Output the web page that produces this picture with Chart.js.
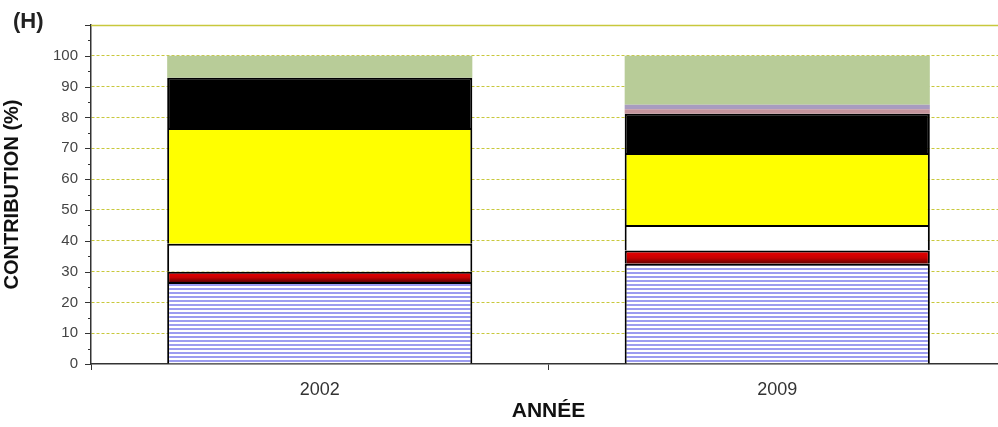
<!DOCTYPE html>
<html>
<head>
<meta charset="utf-8">
<script src="https://cdn.jsdelivr.net/npm/chart.js@4/dist/chart.umd.min.js"></script>
<style>
  html, body { margin: 0; padding: 0; background: #fff; overflow: hidden; }
  #wrap { position: relative; width: 998px; height: 427px; overflow: hidden; }
  #c { display: block; }
  #tag { position: absolute; left: 13px; top: 8px; font: bold 22px "Liberation Sans", Arial, sans-serif; color: #222; }
</style>
</head>
<body>
<div id="wrap">
  <canvas id="c" width="1006" height="427"></canvas>
  <div id="tag">(H)</div>
</div>
<script>
/* contribution (%) by year, stacked bottom -> top */
const years = ['2002', '2009'];
const striped = [26.6, 32.5];
const red = [3.3, 4.3];
const white = [9.1, 8.3];
const yellow = [37.6, 23.4];
const black = [16.3, 12.7];
const rose = [0, 1.5];
const mauve = [0, 1.4];
const green = [7.1, 15.9];
const yTicks = [0, 10, 20, 30, 40, 50, 60, 70, 80, 90, 100];

const FONT = '"Liberation Sans", Arial, sans-serif';
const NARROW = '"Liberation Sans Narrow", "Liberation Sans", Arial, sans-serif';
const GRID = '#c8c83c';

function stripePattern() {
  const p = document.createElement('canvas');
  p.width = 4; p.height = 4;
  const g = p.getContext('2d');
  g.fillStyle = '#ffffff'; g.fillRect(0, 0, 4, 4);
  g.fillStyle = '#9c9cf0'; g.fillRect(0, 0, 4, 2);
  return g.createPattern(p, 'repeat');
}

// vertical red gradient per bar, bright on top, dark at the base
function redFill(ctx) {
  const chart = ctx.chart;
  const y = chart.scales && chart.scales.y;
  if (!y || ctx.dataIndex == null) return '#c00000';
  const i = ctx.dataIndex;
  const base = striped[i];
  const top = base + red[i];
  const y0 = y.getPixelForValue(top), y1 = y.getPixelForValue(base);
  if (!isFinite(y0) || !isFinite(y1) || y0 === y1) return '#c00000';
  const g = chart.ctx.createLinearGradient(0, y0, 0, y1);
  g.addColorStop(0, '#f00000');
  g.addColorStop(0.55, '#c80000');
  g.addColorStop(1, '#600000');
  return g;
}

const ctx = document.getElementById('c');

// only top + sides so stacked segments share one dividing line
const bordered = { borderColor: '#000', borderWidth: { top: 2, left: 2, right: 2, bottom: 0 }, borderSkipped: false };
const plain = { borderWidth: 0, borderSkipped: false };

const axisTicks = {
  id: 'axisTicks',
  afterDraw(chart) {
    const { ctx: g, chartArea: a, scales: { y } } = chart;
    g.save();
    // solid top line at 110
    g.strokeStyle = GRID; g.lineWidth = 1.5;
    const yt = Math.round(y.getPixelForValue(110)) + 0.5;
    g.beginPath(); g.moveTo(a.left, yt); g.lineTo(a.right, yt); g.stroke();
    // y axis major / minor tick marks
    g.strokeStyle = '#333'; g.lineWidth = 1;
    for (let v = 0; v <= 110; v += 5) {
      const py = Math.round(y.getPixelForValue(v)) + 0.5;
      const len = v % 10 === 0 ? 6 : 3;
      g.beginPath(); g.moveTo(a.left - len, py); g.lineTo(a.left, py); g.stroke();
    }
    g.restore();
  }
};

const chart = new Chart(ctx, {
  type: 'bar',
  data: {
    labels: years,
    datasets: [
      { label: 'a', data: striped, backgroundColor: stripePattern(), ...bordered },
      { label: 'b', data: red, backgroundColor: redFill, ...bordered },
      { label: 'c', data: white, backgroundColor: '#ffffff', ...bordered },
      { label: 'd', data: yellow, backgroundColor: '#ffff00', ...bordered },
      { label: 'e', data: black, backgroundColor: '#000000', ...bordered },
      { label: 'f', data: rose, backgroundColor: '#c4949c', ...plain },
      { label: 'g', data: mauve, backgroundColor: '#a89cc0', ...plain },
      { label: 'h', data: green, backgroundColor: '#b8cc98', ...plain },
    ],
  },
  options: {
    responsive: false,
    animation: false,
    events: [],
    layout: { padding: { top: 25, left: 0, right: 0, bottom: 0 } },
    plugins: { legend: { display: false }, tooltip: { enabled: false } },
    datasets: { bar: { categoryPercentage: 1, barPercentage: 0.667 } },
    scales: {
      x: {
        stacked: true,
        afterFit(s) { s.height = 63; },
        grid: { display: true, drawOnChartArea: false, drawTicks: true, tickLength: 6, tickColor: '#333', offset: true },
        border: { display: true, color: '#333', width: 1.5 },
        ticks: { color: '#333', font: { family: NARROW, size: 18 }, padding: 9, maxRotation: 0 },
        title: { display: true, text: 'ANNÉE', color: '#111', font: { family: NARROW, size: 21, weight: 'bold' }, padding: { top: 0, bottom: 3 } },
      },
      y: {
        stacked: true,
        min: 0, max: 110,
        afterFit(s) { s.width = 91; },
        afterBuildTicks(s) {
          const t = [];
          for (let v = 0; v <= 110; v += 5) t.push({ value: v });
          s.ticks = t;
        },
        grid: {
          drawTicks: false,
          color: (c) => (c.tick && c.tick.value % 10 === 0 && c.tick.value > 0 && c.tick.value < 110) ? GRID : 'transparent',
          lineWidth: 1,
        },
        border: { display: true, color: '#333', width: 1.5, dash: [3, 2] },
        ticks: {
          autoSkip: false,
          padding: 13,
          color: '#444',
          font: { family: NARROW, size: 15 },
          callback: (v) => yTicks.includes(v) ? String(v) : '',
        },
        title: { display: true, text: 'CONTRIBUTION (%)', color: '#111', font: { family: FONT, size: 20, weight: 'bold' }, padding: { top: 0, bottom: 0 } },
      },
    },
  },
  plugins: [axisTicks],
});
// re-resolve the gradient once the scales are laid out
chart.update('none');
</script>
</body>
</html>
